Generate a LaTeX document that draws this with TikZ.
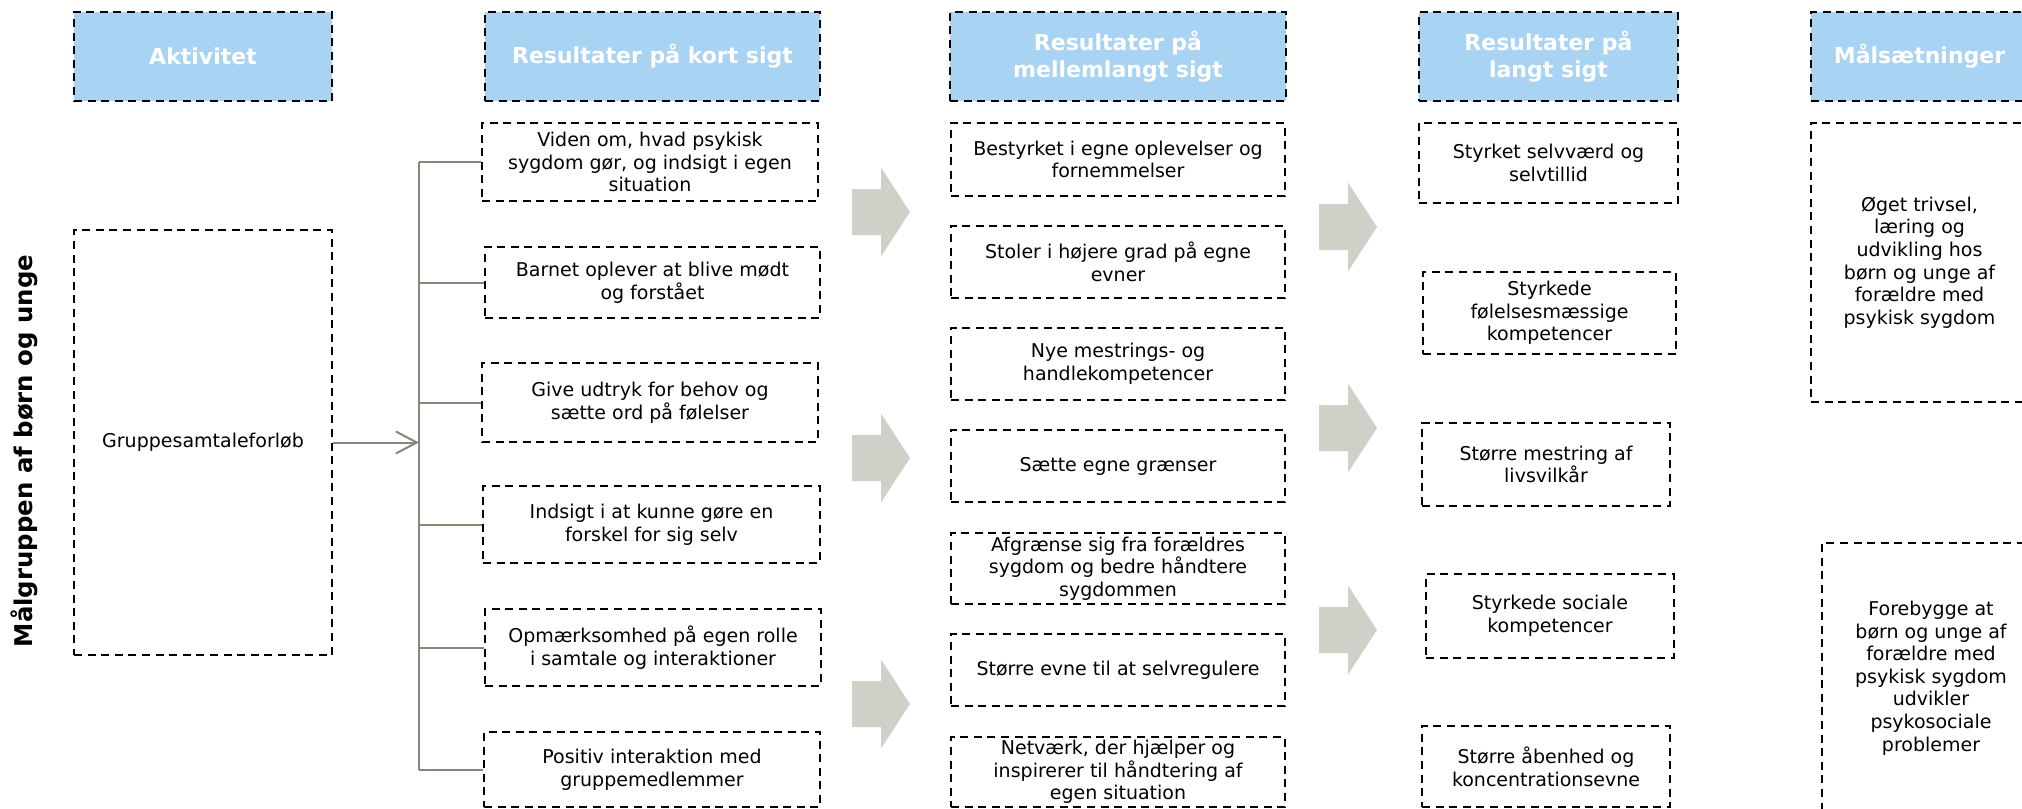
\documentclass[tikz,border=0pt]{standalone}
\usepackage{fontspec}
\setmainfont{DejaVu Sans}
\usetikzlibrary{arrows.meta}
\definecolor{hdrblue}{HTML}{A9D3F2}
\definecolor{blockgray}{HTML}{D1D0C8}
\definecolor{connc}{HTML}{86867A}
\newcommand{\mybox}[7][dbox]{\node[#1, minimum width={(#4-#2)*0.5pt}, minimum height={(#5-#3)*0.5pt}] (#6) at ({(#2+#4)/2},{(#3+#5)/2}) {#7};}
\newcommand{\blockarr}[2]{\fill[blockgray] (#1,#2-23) -- (#1+29,#2-23) -- (#1+29,#2-44.5) -- (#1+58,#2) -- (#1+29,#2+44.5) -- (#1+29,#2+23) -- (#1,#2+23) -- cycle;}
\begin{document}
\begin{tikzpicture}[x=0.5pt,y=-0.5pt,
  dbox/.style={draw=black, dash pattern=on 4pt off 2.8pt, line width=1.25pt, inner sep=0pt, align=center,
    font=\fontsize{9.5pt}{11.3pt}\selectfont, text=black},
  hdr/.style={dbox, fill=hdrblue, text=white, font=\fontsize{11pt}{13.5pt}\selectfont\bfseries},
  connl/.style={draw=connc, line width=1pt}]
\useasboundingbox (0,0) rectangle (2022,808);

% headers
\mybox[hdr]{74}{12}{332}{101}{hA}{Aktivitet}
\mybox[hdr]{485}{12}{820}{101}{hS}{Resultater på kort sigt}
\mybox[hdr]{950}{12}{1286}{101}{hM}{Resultater på\\mellemlangt sigt}
\mybox[hdr]{1419}{12}{1678}{101}{hL}{Resultater på\\langt sigt}
\mybox[hdr]{1811}{12}{2028}{101}{hG}{Målsætninger}

% target group label
\node[rotate=90, font=\fontsize{12.2pt}{15pt}\selectfont\bfseries] (tgt) at (24,451) {Målgruppen af børn og unge};

% activity
\mybox{74}{230}{332}{655}{act}{Gruppesamtaleforløb}

% short term
\mybox{482}{123}{818}{201}{s1}{Viden om, hvad psykisk\\sygdom gør, og indsigt i egen\\situation}
\mybox{485}{247}{820}{318}{s2}{Barnet oplever at blive mødt\\og forstået}
\mybox{482}{363}{818}{442}{s3}{Give udtryk for behov og\\sætte ord på følelser}
\mybox{483}{486}{820}{563}{s4}{Indsigt i at kunne gøre en\\forskel for sig selv}
\mybox{485}{609}{821}{686}{s5}{Opmærksomhed på egen rolle\\i samtale og interaktioner}
\mybox{484}{732}{820}{807}{s6}{Positiv interaktion med\\gruppemedlemmer}

% medium term
\mybox{951}{123}{1285}{196}{m1}{Bestyrket i egne oplevelser og\\fornemmelser}
\mybox{951}{226}{1285}{298}{m2}{Stoler i højere grad på egne\\evner}
\mybox{951}{328}{1285}{400}{m3}{Nye mestrings- og\\handlekompetencer}
\mybox{951}{430}{1285}{502}{m4}{Sætte egne grænser}
\mybox{951}{533}{1285}{604}{m5}{Afgrænse sig fra forældres\\sygdom og bedre håndtere\\sygdommen}
\mybox{951}{634}{1285}{706}{m6}{Større evne til at selvregulere}
\mybox{951}{737}{1285}{807}{m7}{Netværk, der hjælper og\\inspirerer til håndtering af\\egen situation}

% long term
\mybox{1419}{123}{1678}{203}{l1}{Styrket selvværd og\\selvtillid}
\mybox{1423}{272}{1676}{354}{l2}{Styrkede\\følelsesmæssige\\kompetencer}
\mybox{1422}{423}{1670}{506}{l3}{Større mestring af\\livsvilkår}
\mybox{1426}{574}{1674}{658}{l4}{Styrkede sociale\\kompetencer}
\mybox{1422}{726}{1670}{807}{l5}{Større åbenhed og\\koncentrationsevne}

% goals
\mybox{1811}{123}{2028}{402}{g1}{Øget trivsel,\\læring og\\udvikling hos\\børn og unge af\\forældre med\\psykisk sygdom}
\mybox{1822}{543}{2040}{813}{g2}{Forebygge at\\børn og unge af\\forældre med\\psykisk sygdom\\udvikler\\psykosociale\\problemer}

% block arrows
\blockarr{852}{212}
\blockarr{852}{458}
\blockarr{852}{704}
\blockarr{1319}{227}
\blockarr{1319}{428}
\blockarr{1319}{630}

% connectors
\coordinate (bus) at (419,0);
\draw[connl, -{Straight Barb[length=10.5pt,width=11pt,line width=1pt]}] (act.east) -- (act.east -| bus);
\draw[connl] (bus |- s1.west) -- (bus |- s6.west);
\foreach \n in {s1,s2,s3,s4,s5,s6} \draw[connl] (bus |- \n.west) -- (\n.west);
\end{tikzpicture}
\end{document}
